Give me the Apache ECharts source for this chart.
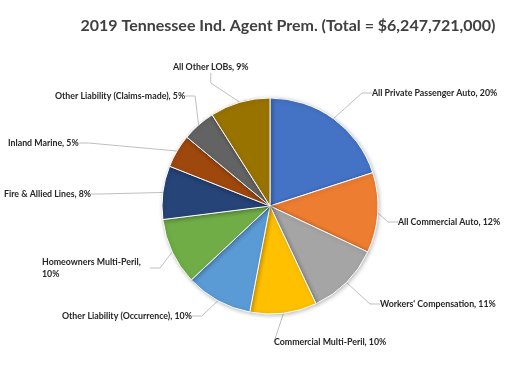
<!DOCTYPE html>
<html>
<head>
<meta charset="utf-8">
<script src="https://cdn.jsdelivr.net/npm/echarts@6/dist/echarts.min.js"></script>
<style>html,body{margin:0;padding:0;background:#fff}#c{width:520px;height:369px}</style>
</head>
<body>
<div id="c"></div>
<script>
const titleText = '2019 Tennessee Ind. Agent Prem. (Total = $6,247,721,000)';
const categories = [
  'All Private Passenger Auto', 'All Commercial Auto', "Workers' Compensation",
  'Commercial Multi-Peril', 'Other Liability (Occurrence)', 'Homeowners Multi-Peril',
  'Fire & Allied Lines', 'Inland Marine', 'Other Liability (Claims-made)', 'All Other LOBs'
];
const shares = [20, 12, 11, 10, 10, 10, 8, 5, 5, 9];
const colors = ['#4472C4', '#ED7D31', '#A5A5A5', '#FFC000', '#5B9BD5', '#70AD47',
                '#264478', '#9E480E', '#636363', '#997300'];
// label anchor (left edge, vertical middle) per category
const labelAnchors = {
  'All Private Passenger Auto': [372, 93],
  'All Commercial Auto': [398, 222],
  "Workers' Compensation": [380, 304],
  'Commercial Multi-Peril': [274, 342],
  'Other Liability (Occurrence)': [62, 316],
  'Homeowners Multi-Peril': [42, 268],
  'Fire & Allied Lines': [4, 194],
  'Inland Marine': [8, 143],
  'Other Liability (Claims-made)': [55, 96],
  'All Other LOBs': [173, 67]
};

const chart = echarts.init(document.getElementById('c'));
chart.setOption({
  animation: false,
  title: {
    text: titleText,
    left: 283, top: 13, textAlign: 'center',
    textStyle: { fontFamily: 'Lato', fontWeight: 'bold', fontSize: 16, color: '#404040' }
  },
  series: [{
    type: 'pie',
    center: [270, 206],
    radius: 108,
    startAngle: 90,
    clockwise: true,
    percentPrecision: 0,
    itemStyle: { borderColor: '#ffffff', borderWidth: 1, shadowBlur: 4, shadowColor: 'rgba(0,0,0,0.25)', shadowOffsetX: 1, shadowOffsetY: 1 },
    label: {
      show: true, position: 'outside',
      formatter: '{b}, {d}%',
      fontFamily: 'Lato', fontWeight: 'bold', fontSize: 8.8, color: '#262626', lineHeight: 12
    },
    labelLine: { show: true, length: 10, length2: 10, lineStyle: { color: '#BFBFBF', width: 1 } },
    labelLayout: function (p) {
      const a = labelAnchors[categories[p.dataIndex]];
      return { x: a[0], y: a[1], align: 'left', verticalAlign: 'middle' };
    },
    emphasis: { disabled: true },
    data: categories.map((c, i) => {
      const d = { name: c, value: shares[i], itemStyle: { color: colors[i] } };
      if (c === 'Homeowners Multi-Peril') d.label = { width: 108, overflow: 'break' };
      return d;
    })
  }]
});
</script>
</body>
</html>
